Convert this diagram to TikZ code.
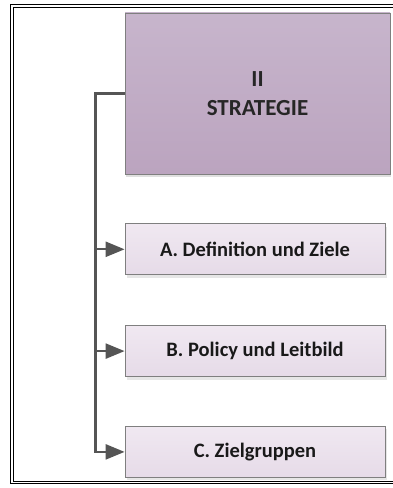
\documentclass[tikz,border=0pt]{standalone}
\usepackage{fontspec}
\setmainfont{Carlito}
\usetikzlibrary{positioning,arrows.meta,shadows}

\definecolor{boxline}{HTML}{7F7F7F}
\definecolor{linkgray}{HTML}{555555}
\definecolor{headtop}{HTML}{C7B5CC}
\definecolor{headbot}{HTML}{BBA4BF}
\definecolor{subtop}{HTML}{F0E8F1}
\definecolor{subbot}{HTML}{E6DBE8}

\tikzset{
  headbox/.style={draw=boxline, line width=0.8pt, top color=headtop, bottom color=headbot,
    minimum width=265pt, minimum height=161pt, align=center, inner sep=0pt,
    font=\bfseries\fontsize{23}{25}\selectfont, text=black!85,
    drop shadow={shadow xshift=1pt, shadow yshift=-3pt, opacity=0.25}},
  subbox/.style={draw=boxline, line width=0.8pt, top color=subtop, bottom color=subbot,
    minimum width=260pt, minimum height=51pt, inner sep=0pt,
    font=\bfseries\fontsize{20.5}{22}\selectfont, text=black!90,
    drop shadow={shadow xshift=1.5pt, shadow yshift=-3pt, opacity=0.2}},
  link/.style={draw=linkgray, line width=2.4pt},
  linkarrow/.style={link, -{Triangle[length=19pt,width=15pt]}},
  frame/.style={draw=black, line width=1pt}
}

\begin{document}
\begin{tikzpicture}[x=1pt,y=1pt]
\useasboundingbox (0,0) rectangle (393,488);
\clip (0,0) rectangle (393,488);
% Double frame round the page
\draw[frame] (10.5,4) rectangle (420,483);
\draw[frame] (13,6.5) rectangle (420,480.5);
% Main box
\node[headbox] (strategie) at (257.5,394.5) {II\\[4pt]STRATEGIE};
% Sub boxes
\node[subbox, below=49pt of strategie.south west, anchor=north west] (ziele) {A. Definition und Ziele};
\node[subbox, below=50pt of ziele.south west, anchor=north west] (policy) {B. Policy und Leitbild};
\node[subbox, below=49pt of policy.south west, anchor=north west] (gruppen) {C. Zielgruppen};
% Connectors
\coordinate[left=29pt of strategie.west] (trunk);
\draw[linkarrow] (strategie.west) -- (trunk) |- (gruppen.west);
\draw[linkarrow] (trunk |- ziele.west) -- (ziele.west);
\draw[linkarrow] (trunk |- policy.west) -- (policy.west);
\end{tikzpicture}
\end{document}
